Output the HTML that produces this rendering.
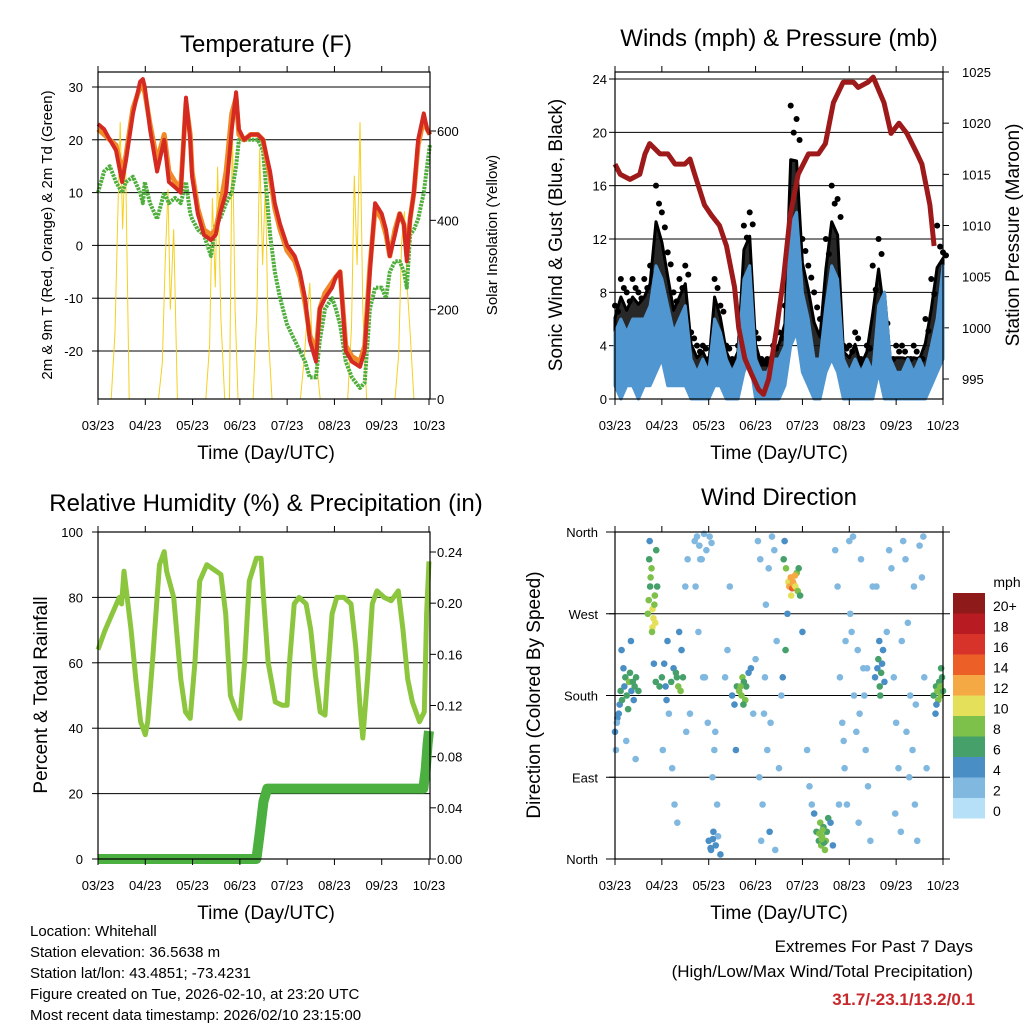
<!DOCTYPE html>
<html><head><meta charset="utf-8"><style>
html,body{margin:0;padding:0;background:#fff;}
svg{display:block;font-family:"Liberation Sans",sans-serif;}
</style></head><body>
<svg id="c" width="1024" height="1024" viewBox="0 0 1024 1024" xmlns="http://www.w3.org/2000/svg">
<rect width="1024" height="1024" fill="#fff"/>
<g id="p1"></g>
<g id="p2"></g>
<g id="p3"></g>
<g id="p4"></g>
<text x="266" y="52" font-size="24" text-anchor="middle">Temperature (F)</text>
<text x="779" y="46" font-size="24" text-anchor="middle">Winds (mph) &amp; Pressure (mb)</text>
<text x="266" y="511" font-size="24" text-anchor="middle">Relative Humidity (%) &amp; Precipitation (in)</text>
<text x="779" y="505" font-size="24" text-anchor="middle">Wind Direction</text>
<text x="266" y="459" font-size="19" text-anchor="middle">Time (Day/UTC)</text>
<text x="779" y="459" font-size="19" text-anchor="middle">Time (Day/UTC)</text>
<text x="266" y="919" font-size="19" text-anchor="middle">Time (Day/UTC)</text>
<text x="779" y="919" font-size="19" text-anchor="middle">Time (Day/UTC)</text>
<text transform="translate(52,235) rotate(-90)" font-size="15" text-anchor="middle">2m &amp; 9m T (Red, Orange) &amp; 2m Td (Green)</text>
<text transform="translate(497,235) rotate(-90)" font-size="15" text-anchor="middle">Solar Insolation (Yellow)</text>
<text transform="translate(562,235) rotate(-90)" font-size="19" text-anchor="middle">Sonic Wind &amp; Gust (Blue, Black)</text>
<text transform="translate(1019,235) rotate(-90)" font-size="19" text-anchor="middle">Station Pressure (Maroon)</text>
<text transform="translate(47,695) rotate(-90)" font-size="19" text-anchor="middle">Percent &amp; Total Rainfall</text>
<text transform="translate(540,695) rotate(-90)" font-size="19" text-anchor="middle">Direction (Colored By Speed)</text>
<g font-size="15">
<text x="30" y="936">Location: Whitehall</text>
<text x="30" y="957">Station elevation: 36.5638 m</text>
<text x="30" y="978">Station lat/lon: 43.4851; -73.4231</text>
<text x="30" y="999">Figure created on Tue, 2026-02-10, at 23:20 UTC</text>
<text x="30" y="1020">Most recent data timestamp: 2026/02/10 23:15:00</text>
</g>
<text x="973" y="952" font-size="17" text-anchor="end">Extremes For Past 7 Days</text>
<text x="973" y="977" font-size="17" text-anchor="end">(High/Low/Max Wind/Total Precipitation)</text>
<text x="975" y="1005" font-size="17" font-weight="bold" fill="#c8282c" text-anchor="end">31.7/-23.1/13.2/0.1</text>
<text x="1007" y="587" font-size="14" text-anchor="middle">mph</text>
</svg>
<script>
const NS="http://www.w3.org/2000/svg";
const dayLabels=["03/23","04/23","05/23","06/23","07/23","08/23","09/23","10/23"];
// Temperature data (t in days)
const tempT=[0,.13,.25,.38,.51,.59,.74,.89,.95,.99,1.10,1.25,1.40,1.50,1.63,1.75,1.86,1.95,1.99,2.11,2.24,2.39,2.49,2.58,2.71,2.83,2.92,2.98,3.09,3.23,3.38,3.49,3.64,3.74,3.85,4.00,4.16,4.27,4.38,4.48,4.61,4.69,4.80,4.95,5.03,5.12,5.24,5.37,5.54,5.64,5.75,5.86,6.00,6.09,6.17,6.28,6.38,6.47,6.53,6.60,6.68,6.77,6.89,6.96,7.02];
const tempRed=[23,22,20,18,12,16,25,31,31.5,30,22,14,20,12,11,10,28,20,13,6,2,1,2,6,10,22,29,22,20,21,21,20,14,8,4,0,-2,-5,-10,-18,-22,-12,-10,-8,-6,-5,-20,-22,-23,-20,-5,8,6,3,-2,2,6,4,-3,5,10,20,25,22,21];
const tempOrange=[22,21,20,19,14,17,26,30,30,29,23,16,21,14,12,11,27,21,14,7,3,2,3,7,14,25,28,21,20,21,21,20,13,7,3,-1,-3,-6,-11,-17,-20,-12,-9,-7,-6,-5,-19,-21,-22,-19,-4,7,5,2,-2,3,6,4,-2,5,10,19,24,22,21];
const tempGreen=[10,14,15,12,10,12,13,10,8,12,8,5,10,8,9,8,12,6,5,3,2,-2,4,5,8,10,15,20,20,20,20,18,2,-5,-10,-15,-18,-20,-22,-25,-25,-18,-12,-10,-12,-15,-22,-25,-27,-26,-12,-8,-8,-10,-5,-3,-3,-5,-8,2,3,5,10,15,19];
const solT=[0,.28,.36,.42,.47,.52,.58,.66,1.28,1.36,1.42,1.48,1.53,1.6,1.68,2.28,2.36,2.42,2.48,2.53,2.6,2.68,2.78,2.84,2.9,2.96,3.28,3.36,3.42,3.48,3.54,3.6,3.68,4.28,4.36,4.42,4.48,4.53,4.62,4.7,5.28,5.36,5.42,5.48,5.54,5.6,5.68,6.28,6.36,6.42,6.48,6.54,6.6,6.68,7];
const solV=[0,0,150,420,620,380,560,0,0,80,300,470,200,380,0,0,120,450,250,520,180,0,0,620,200,0,0,200,560,300,480,150,0,0,90,180,260,120,80,0,0,160,500,300,620,200,0,0,100,350,420,250,150,0,0];
// Wind data, 3-hourly
const windLo=[1,0,1,1,0,1,1,2,3,1,1,1,1,0,0,0,0,1,1,0,0,0,2,3,0,0,0,0,0,1,4,5,2,1,0,0,2,3,2,0,0,0,0,0,0,2,0,0,0,0,0,0,0,0,1,2,3];
const windHi=[5,6,5,6,6,6,7,10,9,7,5,6,7,3,2,3,2,6,5,3,2,3,9,10,3,2,2,3,3,4,13,14,8,6,3,3,7,10,9,3,2,3,2,3,2,7,8,3,2,2,3,2,3,2,4,6,10];
const windGust=[7,9,8,9,8,9,10,16,14,11,8,9,10,5,4,4,3,9,7,4,3,4,13,14,5,3,3,4,5,7,22,21,12,10,8,6,12,16,15,4,4,5,3,4,10,12,5,3,4,4,3,4,3,6,9,13,11];
const presT=[0,.11,.32,.53,.64,.74,.96,1.13,1.28,1.49,1.6,1.7,1.91,2.06,2.23,2.38,2.55,2.64,2.77,2.91,3.06,3.17,3.28,3.45,3.6,3.74,3.91,4.13,4.34,4.49,4.66,4.87,5.09,5.19,5.4,5.51,5.74,5.89,6.06,6.23,6.45,6.55,6.72,6.81];
const presV=[1016,1015,1014.5,1015,1017,1018,1017,1017,1016,1016,1016.5,1015,1012,1011,1010,1008,1004,1000,997,995.5,994,993.5,995,1000,1005,1011,1015,1017,1017,1018,1022,1024,1024,1023.5,1024,1024.5,1022,1019,1020,1019,1017,1016,1012,1008];
// Humidity & precipitation
const rhT=[0,.15,.3,.45,.5,.55,.6,.7,.8,.9,1,1.05,1.15,1.25,1.3,1.4,1.45,1.6,1.75,1.85,1.95,2.05,2.15,2.3,2.5,2.6,2.7,2.8,2.9,3,3.1,3.2,3.35,3.45,3.5,3.6,3.75,3.9,4,4.05,4.15,4.25,4.4,4.5,4.6,4.7,4.8,4.85,4.95,5.05,5.2,5.35,5.45,5.55,5.6,5.7,5.8,5.9,6.05,6.2,6.35,6.45,6.55,6.65,6.8,6.9,6.95,7];
const rhV=[64,70,75,80,78,88,82,70,55,42,38,42,60,80,90,94,88,80,55,45,43,60,85,90,88,87,75,50,46,43,60,85,92,92,80,60,48,47,47,60,78,80,78,70,56,45,44,55,75,80,80,78,65,45,37,55,78,82,80,79,82,70,55,48,42,45,75,91];
const prT=[0,3.35,3.42,3.5,3.58,6.88,6.93,6.97,7];
const prV=[0,0,.02,.045,.055,.055,.07,.09,.10];
// Wind direction scatter
const dirT=[0,.05,.1,.12,.15,.2,.22,.25,.3,.32,.35,.4,.42,.45,.5,.02,.08,.18,.28,.38,.04,.14,.24,.34,.44,
.7,.72,.75,.78,.8,.82,.85,.88,.76,.8,.84,.74,.9,.86,.73,.79,.83,.87,
.95,1,1.05,1.1,1.15,1.2,1.25,1.3,1.35,1.4,1.45,1.5,1.55,1.6,1.02,1.12,1.22,1.32,1.42,1.52,1.27,1.37,1.33,1.08,
1.7,1.75,1.8,1.85,1.9,1.95,2,2.05,2.1,2.15,2.2,2.25,1.78,1.88,1.98,2.08,2.18,2.02,2.06,2.12,1.72,1.82,2.04,2.09,1.92,2.14,
2.35,2.4,2.5,2.55,2.6,2.65,2.7,2.72,2.75,2.78,2.8,2.85,2.9,2.45,2.95,3,2.68,2.74,2.58,
3.05,3.1,3.15,3.2,3.25,3.3,3.35,3.4,3.45,3.5,3.55,3.12,3.22,3.32,3.42,3.28,3.18,3.08,
3.6,3.65,3.7,3.72,3.75,3.78,3.8,3.82,3.85,3.88,3.9,3.95,3.68,3.76,3.84,3.92,4,3.62,3.64,3.58,
4.3,4.35,4.38,4.4,4.42,4.45,4.48,4.5,4.52,4.55,4.6,4.25,4.65,4.36,4.46,4.41,4.43,4.2,4.15,4.1,
4.7,4.75,4.8,4.85,4.9,4.95,5,5.05,5.1,5.15,5.2,5.25,5.3,5.35,5.4,5.45,5.5,4.78,4.92,5.08,5.22,5.38,4.88,5.02,5.18,5.32,
5.55,5.6,5.62,5.65,5.68,5.7,5.72,5.75,5.8,5.58,5.66,5.64,
5.85,5.9,5.95,6,6.05,6.1,6.15,6.2,6.25,6.3,6.35,6.4,6.45,6.5,6.55,6.6,6.65,5.98,6.12,6.28,6.42,6.58,6.22,6.38,
6.8,6.85,6.88,6.9,6.92,6.95,6.98,7,6.86,6.94,6.84,6.96];
const dirDeg=[140,155,170,185,175,190,200,180,195,205,185,175,190,200,185,120,160,210,165,195,150,230,130,240,110,
270,285,300,320,275,265,290,340,310,255,280,350,300,260,330,250,215,195,
190,200,215,175,160,195,210,205,190,185,200,300,330,160,120,240,100,200,230,140,60,250,40,190,
350,355,345,330,358,340,20,10,30,15,25,5,250,200,150,90,60,355,348,120,300,330,12,22,200,140,
200,230,180,170,190,185,180,200,195,175,190,205,210,300,160,220,190,170,120,
350,330,60,200,120,30,355,340,240,100,180,20,280,150,10,320,160,90,
330,320,305,300,310,298,305,302,300,315,295,290,270,290,312,320,250,350,230,200,
30,20,40,15,25,35,10,20,30,45,40,50,15,28,18,22,32,60,80,120,
340,300,200,150,100,60,350,250,180,140,40,330,210,120,80,20,300,60,240,355,160,210,130,270,230,180,
200,210,220,190,205,215,230,195,250,300,180,240,
340,320,200,150,100,30,350,330,260,180,120,60,20,345,310,200,100,50,240,90,170,355,140,300,
180,190,185,175,195,180,200,185,170,190,160,210];
const dirSpd=[3,4,4,5,6,4,6,5,7,6,4,3,5,6,5,2,3,4,6,5,2,3,2,3,1,
7,8,6,7,10,10,8,5,7,9,8,4,6,9,6,7,4,5,
6,5,4,3,2,5,4,6,7,8,5,2,1,2,1,3,1,6,4,2,1,3,2,4,
1,2,1,2,1,2,3,4,3,4,2,3,1,2,1,1,2,1,2,1,1,2,3,3,1,1,
2,1,3,4,6,7,8,7,6,7,5,4,3,1,2,2,7,6,4,
1,2,1,2,1,3,1,2,1,1,2,1,1,1,2,1,2,1,
6,8,10,12,11,13,12,11,10,8,7,5,4,9,12,6,3,4,5,3,
5,6,7,8,7,6,7,8,6,5,4,3,4,8,6,8,7,1,1,1,
1,1,2,1,1,2,1,1,2,1,1,2,1,1,1,2,1,1,1,1,2,1,1,2,1,1,
3,4,5,6,5,4,4,3,2,1,5,3,
1,2,1,2,1,1,2,1,1,2,1,2,1,2,1,1,2,1,1,1,2,1,1,2,
5,6,7,8,6,7,5,6,4,8,4,6];
const cbLabels=["20+","18","16","14","12","10","8","6","4","2","0"];
const cbColors=["#8e1a1a","#b81c22","#d8332a","#ec6028","#f5a945","#e5e05a","#7dc04a","#45a06a","#4a8ec6","#80b8e0","#b5e0f8"];

function mk(tag,attrs,parent){const e=document.createElementNS(NS,tag);for(const k in attrs)e.setAttribute(k,attrs[k]);parent.appendChild(e);return e;}
function lin(d0,d1,r0,r1){return v=>r0+(v-d0)*(r1-r0)/(d1-d0);}
function pathOf(ts,vs,sx,sy){return ts.map((t,i)=>(i?"L":"M")+sx(t).toFixed(1)+","+sy(vs[i]).toFixed(1)).join("");}

function frame(g,x0,x1,y0,y1,sxT,name){
  const r=mk("rect",{x:x0,y:y0,width:x1-x0,height:y1-y0,fill:"none",stroke:"#000","stroke-width":1.2},g);
  
  
  dayLabels.forEach((lab,i)=>{
    const x=sxT(i);
    const tk=mk("line",{x1:x,x2:x,y1:y1,y2:y1+6,stroke:"#000"},g);
    
    
    const tk2=mk("line",{x1:x,x2:x,y1:y0,y2:y0-6,stroke:"#000"},g);
    
    
    const tx=mk("text",{x:x,y:y1+31,"font-size":13,"text-anchor":"middle"},g);
    
    
    tx.textContent=lab;
  });
}
function yAxis(g,ticks,labels,sy,x,side,x0,x1,grid,name,pad){
  ticks.forEach((v,i)=>{
    const y=sy(v);
    if(grid){const gl=mk("line",{x1:x0,x2:x1,y1:y,y2:y,stroke:"#000","stroke-width":1},g);
      
      }
    const tk=mk("line",{x1:x,x2:x+(side<0?-6:6),y1:y,y2:y,stroke:"#000"},g);
    
    
    const t=mk("text",{x:x+(side<0?-pad:pad),y:y+5,"font-size":13,"text-anchor":side<0?"end":"start"},g);
    
    
    t.textContent=labels[i];
  });
}

// Panel 1
(function(){
  const g=document.getElementById("p1");
  const sx=lin(0,7,98,429), sy=lin(30,-20,87,351), sys=lin(0,600,399,131);
  mk("line",{x1:98,x2:430,y1:72,y2:72,stroke:"#000"},g);
  yAxis(g,[30,20,10,0,-10,-20],["30","20","10","0","-10","-20"],sy,98,-1,98,430,true,"temperature-y",15);
  yAxis(g,[0,200,400,600],["0","200","400","600"],sys,430,1,0,0,false,"solar-y",7);
  const s=mk("path",{d:pathOf(solT,solV,sx,sys),fill:"none",stroke:"#f5d020","stroke-width":1},g);
  
  
  const gr=mk("path",{d:pathOf(tempT,tempGreen,sx,sy),fill:"none",stroke:"#4fae3c","stroke-width":4,"stroke-dasharray":"2.5 1","stroke-linejoin":"round"},g);
  
  
  const o=mk("path",{d:pathOf(tempT,tempOrange,sx,sy),fill:"none",stroke:"#f08a28","stroke-width":5,"stroke-linejoin":"round"},g);
  
  
  const r=mk("path",{d:pathOf(tempT,tempRed,sx,sy),fill:"none",stroke:"#d42a22","stroke-width":4,"stroke-linejoin":"round"},g);
  
  
  frame(g,98,430,72,399,sx,"temperature");
})();

// Panel 2
(function(){
  const g=document.getElementById("p2");
  const sx=lin(0,7,615,943), sy=lin(0,24,399,79), syp=lin(995,1025,379,72);
  const wt=windHi.map((_,i)=>i*0.125);
  mk("line",{x1:615,x2:943,y1:72,y2:72,stroke:"#000"},g);
  yAxis(g,[24,20,16,12,8,4,0],["24","20","16","12","8","4","0"],sy,615,-1,615,943,true,"wind-y",8);
  yAxis(g,[1025,1020,1015,1010,1005,1000,995],["1025","1020","1015","1010","1005","1000","995"],syp,943,1,0,0,false,"pressure-y",19);
  const mid=windGust.map((gv,i)=>windHi[i]+(gv-windHi[i])*0.55);
  let d=pathOf(wt,mid,sx,sy)+pathOf(wt.slice().reverse(),windHi.slice().reverse(),sx,sy).replace("M","L")+"Z";
  const gb=mk("path",{d:d,fill:"#111","fill-opacity":0.9,stroke:"#000","stroke-width":3,"stroke-linejoin":"round"},g);
  
  
  wt.forEach((t,i)=>{
    const c=mk("circle",{cx:sx(t),cy:sy(windGust[i]),r:3,fill:"#000"},g);
    
    
    const c2=mk("circle",{cx:sx(t)+3,cy:sy((windGust[i]+mid[i])/2),r:3,fill:"#000"},g);
    
    
  });
  d=pathOf(wt,windHi,sx,sy)+pathOf(wt.slice().reverse(),windLo.slice().reverse(),sx,sy).replace("M","L")+"Z";
  const wb=mk("path",{d:d,fill:"#5096d0",stroke:"#5096d0","stroke-width":3,"stroke-linejoin":"round"},g);
  
  
  const p=mk("path",{d:pathOf(presT,presV,sx,syp),fill:"none",stroke:"#9e1a1a","stroke-width":5,"stroke-linejoin":"round"},g);
  
  
  frame(g,615,943,72,399,sx,"winds");
})();

// Panel 3
(function(){
  const g=document.getElementById("p3");
  const sx=lin(0,7,98,429), sy=lin(0,100,859,532), syr=lin(0,0.24,859,552);
  yAxis(g,[100,80,60,40,20,0],["100","80","60","40","20","0"],sy,98,-1,98,430,true,"humidity-y",15);
  yAxis(g,[0,.04,.08,.12,.16,.2,.24],["0.00","0.04","0.08","0.12","0.16","0.20","0.24"],syr,430,1,0,0,false,"rain-y",7);
  const rh=mk("path",{d:pathOf(rhT,rhV,sx,sy),fill:"none",stroke:"#8cc63e","stroke-width":5,"stroke-linejoin":"round"},g);
  
  
  const pr=mk("path",{d:pathOf(prT,prV,sx,syr),fill:"none",stroke:"#4bb040","stroke-width":10,"stroke-linejoin":"round"},g);
  
  
  frame(g,98,430,532,859,sx,"humidity");
})();

// Panel 4
(function(){
  const g=document.getElementById("p4");
  const sx=lin(0,7,615,943), sy=lin(0,360,859,532);
  yAxis(g,[0,90,180,270,360],["North","East","South","West","North"],sy,615,-1,606,950,true,"direction-y",17);
  dirT.forEach((t,i)=>{
    const idx=Math.max(0,10-Math.min(10,Math.round(dirSpd[i]/2)));
    const c=mk("circle",{cx:sx(t),cy:sy(dirDeg[i]),r:3.3,fill:cbColors[idx]},g);
    
    
  });
  frame(g,615,943,532,859,sx,"direction");
  cbLabels.forEach((lab,i)=>{
    const y=593+i*20.5;
    const r=mk("rect",{x:953,y:y,width:32,height:20.5,fill:cbColors[i]},g);
    
    
    const t=mk("text",{x:993,y:y+18,"font-size":14},g);
    
    
    t.textContent=lab;
  });
})();
</script>
</body></html>
